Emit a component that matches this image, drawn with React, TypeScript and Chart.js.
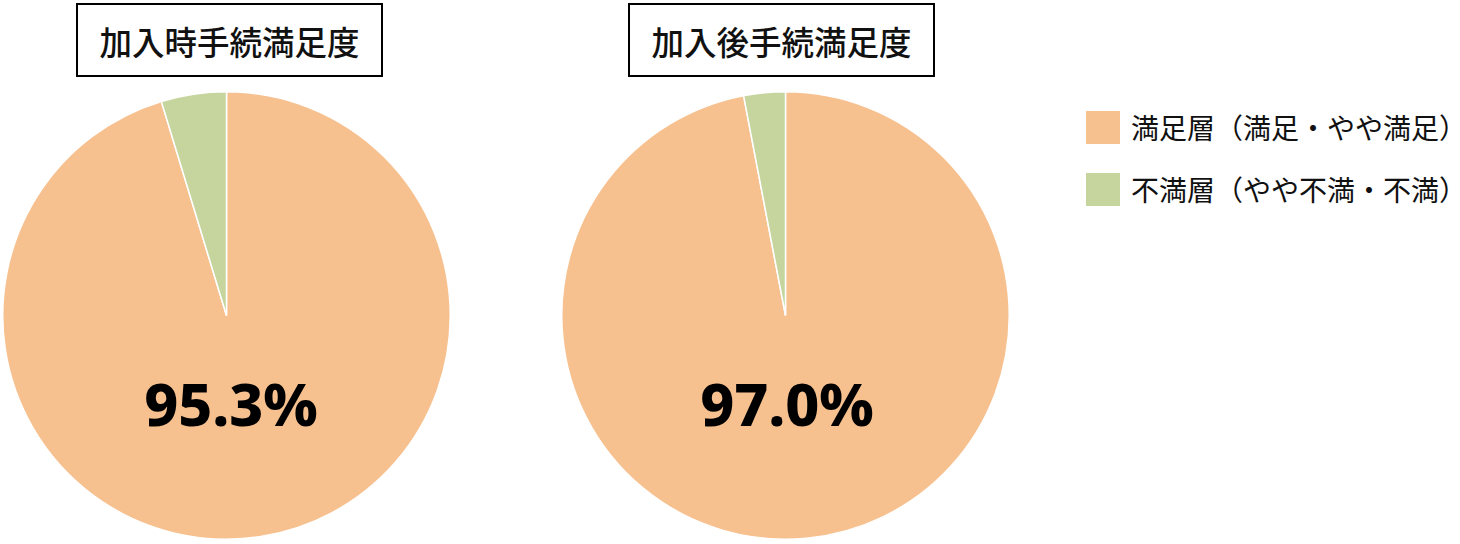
import React, { useEffect, useRef } from "react";
import { Chart, registerables } from "chart.js";

Chart.register(...registerables);

const categories = ["満足層（満足・やや満足）", "不満層（やや不満・不満）"];
const chartTitles = ["加入時手続満足度", "加入後手続満足度"];
const beforeValues = [95.3, 4.7];
const afterValues = [97.0, 3.0];
const colors = ["#F7C08F", "#C5D59D"];

const JP = '"Noto Sans CJK JP", "Noto Sans", sans-serif';

function PieChart({ values, left }: { values: number[]; left: number }) {
  const ref = useRef<HTMLCanvasElement | null>(null);
  useEffect(() => {
    if (!ref.current) return;
    const chart = new Chart(ref.current, {
      type: "pie",
      data: {
        labels: categories,
        datasets: [
          {
            data: values,
            backgroundColor: colors,
            borderColor: "#ffffff",
            borderWidth: 1.5,
            hoverOffset: 0,
            offset: 0,
          },
        ],
      },
      options: {
        responsive: false,
        animation: false,
        layout: { padding: 0 },
        plugins: {
          legend: { display: false },
          tooltip: { enabled: false },
          title: { display: false },
        },
      },
    });
    return () => chart.destroy();
  }, [values]);
  return (
    <canvas
      ref={ref}
      width={449}
      height={449}
      style={{ position: "absolute", left, top: 90.5, width: 449, height: 449 }}
    />
  );
}

function TitleBox({ text, left }: { text: string; left: number }) {
  return (
    <div
      style={{
        position: "absolute",
        left,
        top: 3,
        width: 307,
        height: 74,
        boxSizing: "border-box",
        border: "2px solid #000",
        display: "flex",
        alignItems: "center",
        justifyContent: "center",
        fontFamily: JP,
        fontSize: 32.5,
        fontWeight: 500,
        color: "#111",
        background: "#fff",
      }}
    >
      {text}
    </div>
  );
}

function PctLabel({ value, cx }: { value: number; cx: number }) {
  return (
    <div
      style={{
        position: "absolute",
        left: cx - 150,
        top: 363,
        width: 300,
        height: 80,
        display: "flex",
        alignItems: "center",
        justifyContent: "center",
        fontFamily: '"Noto Sans", sans-serif',
        fontWeight: 800,
        fontSize: 59,
        color: "#000",
      }}
    >
      {value.toFixed(1)}%
    </div>
  );
}

export default function App() {
  return (
    <div
      style={{
        position: "absolute",
        left: 0,
        top: 0,
        width: 1460,
        height: 544,
        background: "#fff",
        overflow: "hidden",
      }}
    >
      <PieChart values={beforeValues} left={1.5} />
      <PieChart values={afterValues} left={560.5} />
      <TitleBox text={chartTitles[0]} left={76} />
      <TitleBox text={chartTitles[1]} left={628} />
      <PctLabel value={beforeValues[0]} cx={231} />
      <PctLabel value={afterValues[0]} cx={787} />
      {categories.map((c, i) => (
        <div
          key={c}
          style={{
            position: "absolute",
            left: 1086,
            top: 110 + i * 62,
            height: 34,
            display: "flex",
            alignItems: "center",
            fontFamily: JP,
            fontSize: 28,
            color: "#111",
            whiteSpace: "nowrap",
          }}
        >
          <span
            style={{
              display: "inline-block",
              width: 34,
              height: 33,
              background: colors[i],
              marginRight: 11,
            }}
          />
          {c}
        </div>
      ))}
    </div>
  );
}
